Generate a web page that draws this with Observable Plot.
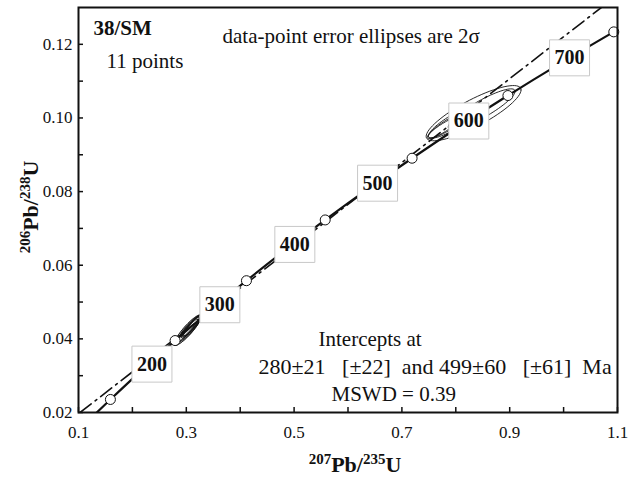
<!DOCTYPE html>
<html><head><meta charset="utf-8">
<script src="https://cdn.jsdelivr.net/npm/d3@7"></script>
<script src="https://cdn.jsdelivr.net/npm/@observablehq/plot@0.6"></script>
<style>body{margin:0;background:#fff} svg{display:block}</style>
</head><body><div id="chart"></div>
<script>
// Concordia curve (age in Ma, 207Pb/235U, 206Pb/238U)
const concAges = [125,150,200,250,300,350,400,450,500,550,600,650,700,750];
const concX = [0.1310,0.1592,0.2177,0.2792,0.3437,0.4116,0.4828,0.5577,0.6363,0.7189,0.8056,0.8967,0.9925,1.0931];
const concY = [0.01958,0.02354,0.03151,0.03954,0.04764,0.05580,0.06402,0.07230,0.08065,0.08906,0.09754,0.10609,0.11470,0.12338];
const markerAges = [150,250,350,450,550,650,750];
const labelAges = [200,300,400,500,600,700];
// Discordia (through intercepts 280 and 499 Ma), end points at plot edges
const discX = [0.103, 1.070];
const discY = [0.020, 0.130];
// Error ellipses (2 sigma): centre, half widths, error correlation
const ellX   = [0.306, 0.304, 0.309, 0.303, 0.311, 0.307, 0.833, 0.848, 0.797, 0.787, 0.778];
const ellY   = [0.0428,0.0426,0.0432,0.0424,0.0436,0.0430,0.1013,0.1024,0.0990,0.0982,0.0974];
const ellSx  = [0.022, 0.020, 0.018, 0.025, 0.016, 0.014, 0.088, 0.062, 0.048, 0.038, 0.031];
const ellSy  = [0.0036,0.0033,0.0030,0.0041,0.0028,0.0024,0.0075,0.0055,0.0045,0.0036,0.0030];
const ellRho = [0.91, 0.94, 0.92, 0.90, 0.92, 0.95, 0.84, 0.88, 0.87, 0.89, 0.90];
// Axis ticks
const xTickLabels = [0.1,0.3,0.5,0.7,0.9,1.1];
const xTicksAll = [0.1,0.2,0.3,0.4,0.5,0.6,0.7,0.8,0.9,1.0,1.1];
const yTickLabels = [0.02,0.04,0.06,0.08,0.10,0.12];
const yTicksAll = [0.02,0.03,0.04,0.05,0.06,0.07,0.08,0.09,0.10,0.11,0.12];

const conc = concAges.map((a,i)=>({age:a, x:concX[i], y:concY[i]}));
const disc = discX.map((x,i)=>({x, y:discY[i]}));
const ellPts = [];
ellX.forEach((cx,i)=>{
  const r = ellRho[i], s = Math.sqrt(1-r*r);
  for (let k=0;k<=72;k++){
    const t = k/72*2*Math.PI;
    ellPts.push({id:i, x: cx + ellSx[i]*Math.cos(t), y: ellY[i] + ellSy[i]*(r*Math.cos(t) + s*Math.sin(t))});
  }
});
const markers = conc.filter(d=>markerAges.includes(d.age));
const labels = conc.filter(d=>labelAges.includes(d.age));

const W=630, H=479, mL=78, mR=13, mT=7, mB=67;
const fw = W-mL-mR, fh = H-mT-mB;
const boxSymbol = {draw(ctx){ ctx.rect(-20,-18,40,36); }};
const serif = "'Liberation Serif','Times New Roman',serif";
const note = (txt, x, yc, extra={}) => Plot.text([txt], {frameAnchor:"top-left", dx: x-mL, dy: yc-mT, textAnchor:"start", lineAnchor:"middle", fontSize:21, fill:"#111", fontFamily: serif, ...extra});

const chart = Plot.plot({
  width: W, height: H,
  marginLeft: mL, marginRight: mR, marginTop: mT, marginBottom: mB,
  style: {fontFamily: serif, fontSize: "17px", background: "#fff", color: "#111"},
  x: {domain: [0.1, 1.1]},
  y: {domain: [0.02, 0.13]},
  marks: [
    Plot.line(ellPts, {x:"x", y:"y", z:"id", stroke:"#111", strokeWidth:0.9, clip:true}),
    Plot.line(ellPts.filter(d=>d.id<6), {x:"x", y:"y", z:"id", stroke:"#111", strokeWidth:0.6, clip:true}),
    Plot.line(disc, {x:"x", y:"y", stroke:"#111", strokeWidth:1.6, strokeDasharray:"14,5,2,5", clip:true}),
    Plot.line(conc, {x:"x", y:"y", stroke:"#111", strokeWidth:2.2, curve:"catmull-rom", clip:true}),
    Plot.dot(markers, {x:"x", y:"y", r:5, fill:"white", stroke:"#111", strokeWidth:1}),
    Plot.dot(labels, {x:"x", y:"y", dx:10, dy:-6, symbol: boxSymbol, r:10, fill:"white", stroke:"#c8c8c8", strokeWidth:1}),
    Plot.text(labels, {x:"x", y:"y", dx:10, dy:-6, text:d=>String(d.age), fontSize:20, fontWeight:"bold", fill:"#111", fontFamily: serif}),
    Plot.ruleX(xTicksAll, {x:d=>d, insetTop: fh-5, stroke:"#111", strokeWidth:1.5}),
    Plot.ruleY(yTicksAll, {y:d=>d, insetRight: fw-5, stroke:"#111", strokeWidth:1.5}),
    Plot.axisX({ticks: xTickLabels, tickSize: 0, tickPadding: 13, tickFormat: d3.format(".1f"), label: null, fontSize: 17}),
    Plot.axisY({ticks: yTickLabels, tickSize: 0, tickPadding: 6, tickFormat: d3.format(".2f"), label: null, fontSize: 17}),
    Plot.frame({stroke:"#111", strokeWidth:2}),
    note("38/SM", 93, 28, {fontWeight:"bold"}),
    note("11 points", 106, 61),
    note("data-point error ellipses are 2σ", 222, 36),
    note("Intercepts at", 318, 339),
    note("280±21\u00a0\u00a0\u00a0[±22]\u00a0\u00a0and 499±60\u00a0\u00a0\u00a0[±61]\u00a0\u00a0Ma", 258, 366, {fontSize:22}),
    note("MSWD = 0.39", 331, 394)
  ]
});

const svg = d3.select(chart);
function title(sel, a, b, c, d){
  const t = sel.append("text").attr("font-family", serif).attr("font-weight","bold").attr("fill","#111").attr("text-anchor","middle");
  t.append("tspan").attr("font-size",15).attr("dy",-8).text(a);
  t.append("tspan").attr("font-size",22).attr("dy",8).text(b);
  t.append("tspan").attr("font-size",15).attr("dy",-8).text(c);
  t.append("tspan").attr("font-size",22).attr("dy",8).text(d);
  return t;
}
title(svg, "207", "Pb/", "235", "U").attr("transform","translate(355,472)");
title(svg, "206", "Pb/", "238", "U").attr("transform","translate(38,207) rotate(-90)");
document.getElementById("chart").appendChild(chart);
</script>
</body></html>
